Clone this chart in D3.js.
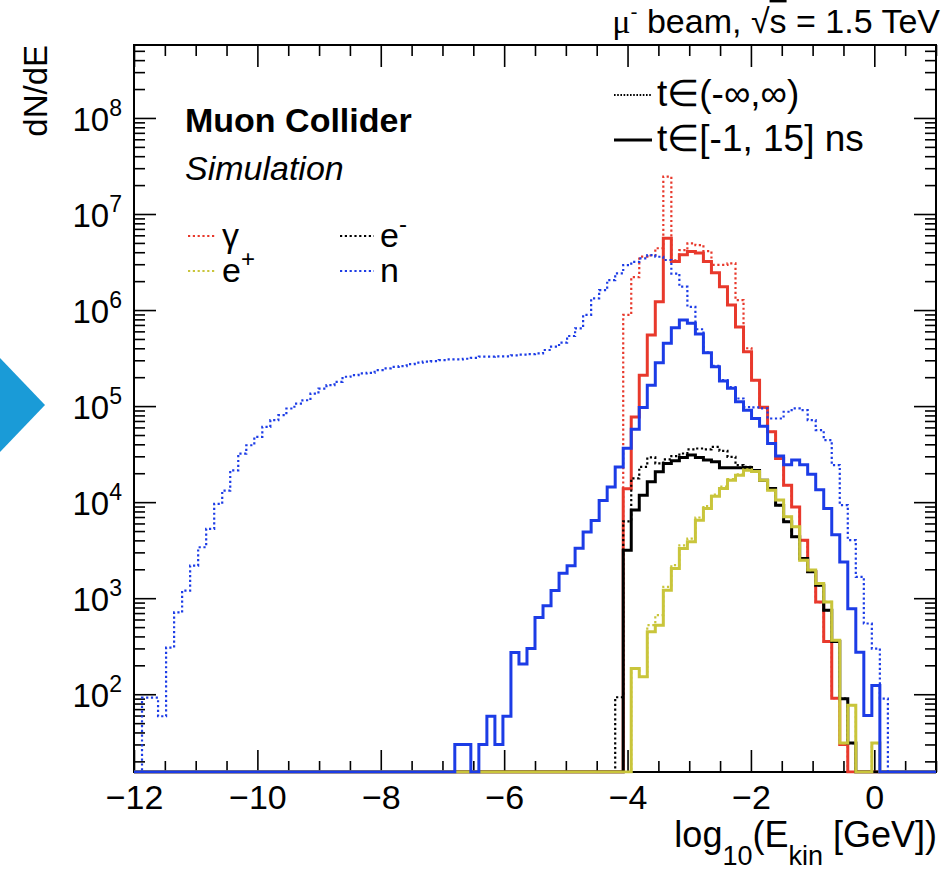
<!DOCTYPE html>
<html><head><meta charset="utf-8">
<script src="https://cdn.jsdelivr.net/npm/d3@7"></script>
<style>
body{margin:0;background:#fff;}
svg{display:block;}
text{font-family:"Liberation Sans",Arial,Helvetica,sans-serif;fill:#000;}
</style>
</head><body>
<svg id="c" width="951" height="871"></svg>
<script>
// ---------------- data ----------------
const binLow = -12, binWidth = 0.13, nBins = 100;
const xMin = -12, xMax = 1;
const yMin = 15.5, yMax = 5.75e8;
const xMajorTicks = [-12, -10, -8, -6, -4, -2, 0];
const yMajorTicks = [1e2, 1e3, 1e4, 1e5, 1e6, 1e7, 1e8];
const yTickExponents = ["2", "3", "4", "5", "6", "7", "8"];

// photons, all times (dotted)
const gammaAll = [
 0,0,0,0,0,0,0,0,0,0, 0,0,0,0,0,0,0,0,0,0, 0,0,0,0,0,0,0,0,0,0,
 0,0,0,0,0,0,0,0,0,0, 0,0,0,0,0,0,0,0,0,0, 0,0,0,0,0,0,0,0,0,0,
 0,8.9e5,2.2e6,3.6e6,3.7e6,4.4e6,2.45e7,3.3e6,4.2e6,4.95e6,
 4.75e6,4.1e6,2.95e6,2.95e6,3.06e6,1.27e6,4.0e5,1.86e5,9.7e4,5.4e4,
 2.85e4,1.5e4,8900,4000,1900,910,355,91,30,0,
 0,0,0,0,0,0,0,0,0,0];
// photons, t in [-1,15] ns (solid)
const gammaIn = [
 0,0,0,0,0,0,0,0,0,0, 0,0,0,0,0,0,0,0,0,0, 0,0,0,0,0,0,0,0,0,0,
 0,0,0,0,0,0,0,0,0,0, 0,0,0,0,0,0,0,0,0,0, 0,0,0,0,0,0,0,0,0,0,
 0,1.38e4,7.7e4,2.1e5,5.5e5,1.22e6,5.6e6,3.2e6,3.76e6,4.07e6,
 3.92e6,3.2e6,2.45e6,1.75e6,1.13e6,6.65e5,3.68e5,1.86e5,9.7e4,5.4e4,
 2.85e4,1.5e4,8900,4000,1900,910,355,91,30,0,
 0,0,0,0,0,0,0,0,0,0];
// electrons, all times
const eMinusAll = [
 0,0,0,0,0,0,0,0,0,0, 0,0,0,0,0,0,0,0,0,0, 0,0,0,0,0,0,0,0,0,0,
 0,0,0,0,0,0,0,0,0,0, 0,0,0,0,0,0,0,0,0,0, 0,0,0,0,0,0,0,0,0,0,
 93,6300,1.77e4,2.33e4,2.92e4,2.53e4,2.79e4,3.01e4,3.21e4,3.54e4,
 3.62e4,3.54e4,3.77e4,3.42e4,2.96e4,2.43e4,2.33e4,2.14e4,1.69e4,1.39e4,
 9300,6240,4360,2590,1880,1360,750,355,90,31,
 0,0,0,0,0,0,0,0,0,0];
// electrons, in time
const eMinusIn = [
 0,0,0,0,0,0,0,0,0,0, 0,0,0,0,0,0,0,0,0,0, 0,0,0,0,0,0,0,0,0,0,
 0,0,0,0,0,0,0,0,0,0, 0,0,0,0,0,0,0,0,0,0, 0,0,0,0,0,0,0,0,0,0,
 0,3160,8260,1.18e4,1.63e4,2.07e4,2.53e4,2.69e4,2.92e4,3.09e4,
 2.92e4,2.74e4,2.63e4,2.28e4,2.28e4,2.28e4,2.29e4,2.14e4,1.69e4,1.39e4,
 9300,6240,4360,2590,1880,1360,750,355,90,31,
 0,0,0,0,0,0,0,0,0,0];
// positrons, all times
const ePlusAll = [
 0,0,0,0,0,0,0,0,0,0, 0,0,0,0,0,0,0,0,0,0, 0,0,0,0,0,0,0,0,0,0,
 0,0,0,0,0,0,0,0,0,0, 0,0,0,0,0,0,0,0,0,0, 0,0,0,0,0,0,0,0,0,0,
 0,0,185,152,525,665,1310,2210,3550,4170,
 6920,9120,1.2e4,1.45e4,1.74e4,1.95e4,2.19e4,2.09e4,1.69e4,1.33e4,
 1.05e4,7030,5530,2490,1960,1420,914,365,31,77,
 0,0,31,0,0,0,0,0,0,0];
// positrons, in time
const ePlusIn = [
 0,0,0,0,0,0,0,0,0,0, 0,0,0,0,0,0,0,0,0,0, 0,0,0,0,0,0,0,0,0,0,
 0,0,0,0,0,0,0,0,0,0, 0,0,0,0,0,0,0,0,0,0, 0,0,0,0,0,0,0,0,0,0,
 0,0,185,152,446,524,1210,2040,3300,3860,
 6490,8590,1.15e4,1.39e4,1.69e4,1.91e4,2.15e4,2.09e4,1.69e4,1.33e4,
 1.05e4,7030,5530,2490,1960,1420,914,365,31,77,
 0,0,31,0,0,0,0,0,0,0];
// neutrons, all times
const neutronAll = [
 0,92,92,59,306,711,1200,2180,3390,5270,
 9600,13200,21400,32000,39100,47800,60700,71300,80400,94400,
 106000,115000,135000,152000,165000,179000,202000,210000,219000,222000,
 237000,247000,256000,261000,274000,283000,290000,294000,301000,306000,
 306000,311000,318000,327000,327000,330000,330000,337000,343000,348000,
 354000,384000,416000,457000,537000,646000,891000,1.32e6,1.61e6,2.05e6,
 2.41e6,2.94e6,3.18e6,3.45e6,3.74e6,3.59e6,3.32e6,2.40e6,1.75e6,1.08e6,
 631000,363000,263000,186000,158000,120000,97700,96800,94600,74300,
 74300,87300,94600,90800,71400,56200,44300,24300,9310,4020,
 1670,545,299,90,0,0,0,0,0,0];
// neutrons, in time
const neutronIn = [
 0,0,0,0,0,0,0,0,0,0, 0,0,0,0,0,0,0,0,0,0, 0,0,0,0,0,0,0,0,0,0,
 0,0,0,0,0,0,0,0,0,0,
 30,30,0,30,59,30,59,272,206,299,
 631,836,1200,1820,2180,3310,4900,6440,10400,14400,
 23200,36300,57500,96600,165000,283000,450000,655000,789000,728000,
 562000,360000,257000,182000,153000,111000,90800,74300,61700,40800,
 30200,24500,27500,24500,19500,13500,8570,4570,2380,776,
 274,60,123,0,0,0,0,0,0,0];

const colRed = "#e8392c", colBlack = "#000000", colYellow = "#c9c53b", colBlue = "#1c3ce6";

// ---------------- layout ----------------
const svg = d3.select("#c");
const F = {l:134, r:936, t:45, b:772};
const x = d3.scaleLinear().domain([xMin, xMax]).range([F.l, F.r]);
const y = d3.scaleLog().domain([yMin, yMax]).range([F.b, F.t]);

svg.append("rect").attr("width",951).attr("height",871).attr("fill","#fff");

// left slide arrow
svg.append("path").attr("d","M0,358 L45,405 L0,452 Z").attr("fill","#1a9bd7");

// frame
svg.append("rect").attr("x",F.l).attr("y",F.t).attr("width",F.r-F.l).attr("height",F.b-F.t)
  .attr("fill","none").attr("stroke","#000").attr("stroke-width",2);

const xMinor = d3.range(xMin, xMax + 0.001, 0.5).filter(v => xMajorTicks.indexOf(v) < 0);
const yMinor = [];
for (let e = 1; e <= 8; e++) for (let k = 2; k <= 9; k++) { const v = k * Math.pow(10, e); if (v >= yMin && v <= yMax) yMinor.push(v); }

function styleAxis(g){ g.select(".domain").remove(); g.selectAll(".tick line").attr("stroke","#000").attr("stroke-width",1.6); }

const fmtX = d => d < 0 ? "\u2212" + Math.abs(d) : String(d);
svg.append("g").attr("transform",`translate(0,${F.b})`)
  .call(d3.axisBottom(x).tickValues(xMajorTicks).tickSize(-22).tickPadding(37).tickFormat(fmtX))
  .call(styleAxis)
  .call(g => g.selectAll("text").attr("font-size",34).attr("font-family","Liberation Sans, Arial, sans-serif").attr("fill","#000").attr("dy",0));
svg.append("g").attr("transform",`translate(0,${F.b})`)
  .call(d3.axisBottom(x).tickValues(xMinor).tickSize(-11).tickFormat(""))
  .call(styleAxis);
svg.append("g").attr("transform",`translate(0,${F.t})`)
  .call(d3.axisTop(x).tickValues(xMajorTicks).tickSize(-22).tickFormat(""))
  .call(styleAxis);
svg.append("g").attr("transform",`translate(0,${F.t})`)
  .call(d3.axisTop(x).tickValues(xMinor).tickSize(-11).tickFormat(""))
  .call(styleAxis);
svg.append("g").attr("transform",`translate(${F.l},0)`)
  .call(d3.axisLeft(y).tickValues(yMajorTicks).tickSize(-22).tickFormat(""))
  .call(styleAxis);
svg.append("g").attr("transform",`translate(${F.l},0)`)
  .call(d3.axisLeft(y).tickValues(yMinor).tickSize(-11).tickFormat(""))
  .call(styleAxis);
svg.append("g").attr("transform",`translate(${F.r},0)`)
  .call(d3.axisRight(y).tickValues(yMajorTicks).tickSize(-22).tickFormat(""))
  .call(styleAxis);
svg.append("g").attr("transform",`translate(${F.r},0)`)
  .call(d3.axisRight(y).tickValues(yMinor).tickSize(-11).tickFormat(""))
  .call(styleAxis);

// y labels 10^n
yMajorTicks.forEach((v,i) => {
  const t = svg.append("text").attr("x",122).attr("y",y(v)+13).attr("text-anchor","end");
  t.append("tspan").attr("font-size",33).text("10");
  t.append("tspan").attr("font-size",23).attr("dy",-15).text(yTickExponents[i]);
});

// ---------------- histograms ----------------
svg.append("clipPath").attr("id","clip").append("rect")
  .attr("x",F.l).attr("y",F.t).attr("width",F.r-F.l).attr("height",F.b-F.t+1.5);
const plot = svg.append("g").attr("clip-path","url(#clip)");

function stepPoints(vals){
  const pts = [[binLow, 0]];
  vals.forEach((v,i) => pts.push([binLow + i*binWidth, v]));
  pts.push([binLow + nBins*binWidth, vals[nBins-1]]);
  pts.push([binLow + nBins*binWidth, 0]);
  return pts;
}
const line = d3.line()
  .x(d => x(d[0]))
  .y(d => d[1] > 0 ? y(Math.max(d[1], yMin)) : F.b)
  .curve(d3.curveStepAfter);

const series = [
  [gammaAll, colRed, true], [gammaIn, colRed, false],
  [eMinusAll, colBlack, true], [eMinusIn, colBlack, false],
  [ePlusAll, colYellow, true], [ePlusIn, colYellow, false],
  [neutronAll, colBlue, true], [neutronIn, colBlue, false]
];
series.forEach(([vals, col, dotted]) => {
  plot.append("path").attr("d", line(stepPoints(vals)))
    .attr("fill","none").attr("stroke",col)
    .attr("stroke-width", dotted ? 2.2 : 3)
    .attr("stroke-dasharray", dotted ? "2.2,2.6" : null)
    .attr("stroke-linejoin","miter");
});

// ---------------- texts ----------------
// top title
const tt = svg.append("text").attr("x",940).attr("y",33).attr("text-anchor","end").attr("font-size",34);
tt.append("tspan").attr("font-family","Liberation Serif, Times New Roman, serif").text("\u03bc");
tt.append("tspan").attr("font-size",21).attr("dy",-14).text("-");
tt.append("tspan").attr("dy",14).text(" beam, \u221a");
tt.append("tspan").style("text-decoration","overline").text("s");
tt.append("tspan").text(" = 1.5 TeV");

// y title
svg.append("text").attr("transform","translate(47,45) rotate(-90)").attr("text-anchor","end")
  .attr("font-size",33).text("dN/dE");

// x title
const xt = svg.append("text").attr("x",937).attr("y",847).attr("text-anchor","end").attr("font-size",36);
xt.append("tspan").text("log");
xt.append("tspan").attr("font-size",27).attr("dy",18).text("10");
xt.append("tspan").attr("dy",-18).text("(E");
xt.append("tspan").attr("font-size",27).attr("dy",18).text("kin");
xt.append("tspan").attr("dy",-18).text(" [GeV])");

// Muon Collider / Simulation
svg.append("text").attr("x",185).attr("y",132).attr("font-size",34).attr("font-weight","bold").text("Muon Collider");
svg.append("text").attr("x",185).attr("y",180).attr("font-size",34).attr("font-style","italic").text("Simulation");

// particle legend
const legItems = [
  {label:"\u03b3", sup:null, col:colRed, lx:188, tx:222, ly:236},
  {label:"e", sup:"-", col:colBlack, lx:340, tx:380, ly:236},
  {label:"e", sup:"+", col:colYellow, lx:188, tx:222, ly:271},
  {label:"n", sup:null, col:colBlue, lx:340, tx:380, ly:271}
];
legItems.forEach(d => {
  svg.append("line").attr("x1",d.lx).attr("x2",d.tx-6).attr("y1",d.ly).attr("y2",d.ly)
    .attr("stroke",d.col).attr("stroke-width",2.2).attr("stroke-dasharray","2.2,2.6");
  const t = svg.append("text").attr("x",d.tx).attr("y",d.ly+11).attr("font-size",34);
  t.append("tspan").text(d.label);
  if (d.sup) t.append("tspan").attr("font-size",24).attr("dy",-15).text(d.sup);
});

// time legend
svg.append("line").attr("x1",614).attr("x2",652).attr("y1",95).attr("y2",95)
  .attr("stroke","#000").attr("stroke-width",2).attr("stroke-dasharray","1.6,1.6");
svg.append("text").attr("x",657).attr("y",106).attr("font-size",37).text("t\u2208(-\u221e,\u221e)");
svg.append("line").attr("x1",614).attr("x2",652).attr("y1",140).attr("y2",140)
  .attr("stroke","#000").attr("stroke-width",3);
svg.append("text").attr("x",657).attr("y",151).attr("font-size",37).text("t\u2208[-1, 15] ns");
</script>
</body></html>
